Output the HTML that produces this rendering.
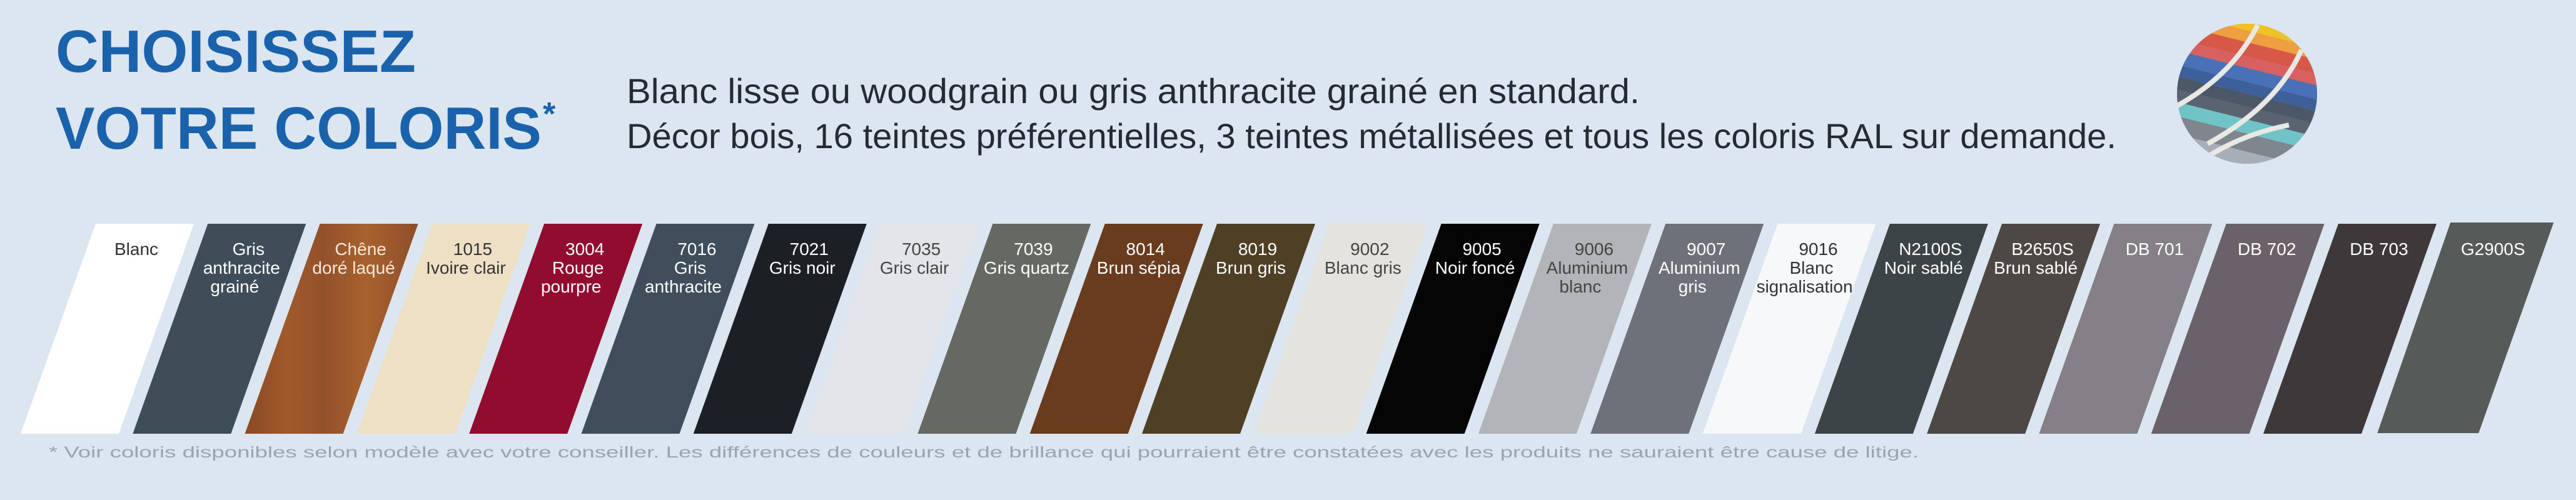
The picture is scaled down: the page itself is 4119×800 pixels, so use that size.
<!DOCTYPE html>
<html><head><meta charset="utf-8"><style>
html,body{margin:0;padding:0;background:#dce6f1;}
svg{display:block}
</style></head><body>
<svg width="4119" height="800" viewBox="0 0 4119 800" xmlns="http://www.w3.org/2000/svg" font-family="Liberation Sans, sans-serif">
<defs>
<linearGradient id="wood" x1="0" y1="0" x2="1" y2="0">
<stop offset="0" stop-color="#8a4a24"/><stop offset="0.25" stop-color="#a05a2a"/><stop offset="0.45" stop-color="#93512a"/><stop offset="0.7" stop-color="#a8622e"/><stop offset="1" stop-color="#8e4e2a"/>
</linearGradient>
<clipPath id="cc"><circle cx="3593" cy="150" r="112"/></clipPath>
<polygon id="sw" points="0,358 157,358 37,694 -120,694"/>
</defs>
<rect width="4119" height="800" fill="#dce6f1"/>

<g fill="#1b62ad" font-weight="bold">
<text x="89" y="115" font-size="96" textLength="576" lengthAdjust="spacingAndGlyphs">CHOISISSEZ</text>
<text x="89" y="238" font-size="96" textLength="777" lengthAdjust="spacingAndGlyphs">VOTRE COLORIS</text>
<text x="868" y="200" font-size="52">*</text>
</g>
<g fill="#232b35" font-size="56">
<text x="1002" y="165" textLength="1620" lengthAdjust="spacingAndGlyphs">Blanc lisse ou woodgrain ou gris anthracite grainé en standard.</text>
<text x="1002" y="237" textLength="2382" lengthAdjust="spacingAndGlyphs">Décor bois, 16 teintes préférentielles, 3 teintes métallisées et tous les coloris RAL sur demande.</text>
</g>

<g clip-path="url(#cc)">
<rect x="3470" y="30" width="250" height="250" fill="#8a8f99"/>
<g transform="rotate(14 3593 150)">
<rect x="3450" y="20" width="300" height="32" fill="#efc228"/>
<rect x="3450" y="52" width="300" height="18" fill="#eea040"/>
<rect x="3450" y="70" width="300" height="22" fill="#d85848"/>
<rect x="3450" y="92" width="300" height="18" fill="#d86060"/>
<rect x="3450" y="110" width="300" height="22" fill="#4a70b8"/>
<rect x="3450" y="132" width="300" height="18" fill="#3d5f9a"/>
<rect x="3450" y="150" width="300" height="20" fill="#4a5868"/>
<rect x="3450" y="170" width="300" height="20" fill="#5a6470"/>
<rect x="3450" y="190" width="300" height="22" fill="#70c4c8"/>
<rect x="3450" y="212" width="300" height="28" fill="#80868e"/>
<rect x="3450" y="240" width="300" height="40" fill="#a8aeb8"/>
</g>
<g fill="none" stroke="#e8e8e4" stroke-width="8">
<path d="M3610 40 Q3570 120 3480 170"/>
<path d="M3680 80 Q3640 170 3530 230"/>
<path d="M3490 280 Q3560 220 3660 200"/>
</g>
</g>

<g font-size="28" text-anchor="middle">
<g transform="translate(153,0)"><use href="#sw" fill="#ffffff"/><g fill="#333"><text x="65" y="408">Blanc</text></g></g>
<g transform="translate(332.3,0)"><use href="#sw" fill="#3f4d58"/><g fill="#fff"><text x="65" y="408">Gris</text><text x="54" y="438">anthracite</text><text x="43" y="468">grainé</text></g></g>
<g transform="translate(511.6,0)"><use href="#sw" fill="url(#wood)"/><g fill="#fbe8d8"><text x="65" y="408">Chêne</text><text x="54" y="438">doré laqué</text></g></g>
<g transform="translate(690.9,0)"><use href="#sw" fill="#ede0c4"/><g fill="#333"><text x="65" y="408">1015</text><text x="54" y="438">Ivoire clair</text></g></g>
<g transform="translate(870.2,0)"><use href="#sw" fill="#920c30"/><g fill="#fff"><text x="65" y="408">3004</text><text x="54" y="438">Rouge</text><text x="43" y="468">pourpre</text></g></g>
<g transform="translate(1049.5,0)"><use href="#sw" fill="#3f4e5a"/><g fill="#fff"><text x="65" y="408">7016</text><text x="54" y="438">Gris</text><text x="43" y="468">anthracite</text></g></g>
<g transform="translate(1228.8,0)"><use href="#sw" fill="#1c1f24"/><g fill="#fff"><text x="65" y="408">7021</text><text x="54" y="438">Gris noir</text></g></g>
<g transform="translate(1408.1,0)"><use href="#sw" fill="#e3e5e8"/><g fill="#444"><text x="65" y="408">7035</text><text x="54" y="438">Gris clair</text></g></g>
<g transform="translate(1587.4,0)"><use href="#sw" fill="#666961"/><g fill="#fff"><text x="65" y="408">7039</text><text x="54" y="438">Gris quartz</text></g></g>
<g transform="translate(1766.7,0)"><use href="#sw" fill="#6a3c1e"/><g fill="#fff"><text x="65" y="408">8014</text><text x="54" y="438">Brun sépia</text></g></g>
<g transform="translate(1946,0)"><use href="#sw" fill="#4f3f24"/><g fill="#fff"><text x="65" y="408">8019</text><text x="54" y="438">Brun gris</text></g></g>
<g transform="translate(2125.3,0)"><use href="#sw" fill="#e4e3de"/><g fill="#444"><text x="65" y="408">9002</text><text x="54" y="438">Blanc gris</text></g></g>
<g transform="translate(2304.6,0)"><use href="#sw" fill="#050505"/><g fill="#fff"><text x="65" y="408">9005</text><text x="54" y="438">Noir foncé</text></g></g>
<g transform="translate(2483.9,0)"><use href="#sw" fill="#b2b4b7"/><g fill="#444"><text x="65" y="408">9006</text><text x="54" y="438">Aluminium</text><text x="43" y="468">blanc</text></g></g>
<g transform="translate(2663.2,0)"><use href="#sw" fill="#6f717a"/><g fill="#fff"><text x="65" y="408">9007</text><text x="54" y="438">Aluminium</text><text x="43" y="468">gris</text></g></g>
<g transform="translate(2842.5,0)"><use href="#sw" fill="#f7f8f9"/><g fill="#333"><text x="65" y="408">9016</text><text x="54" y="438">Blanc</text><text x="43" y="468">signalisation</text></g></g>
<g transform="translate(3021.8,0)"><use href="#sw" fill="#3d4446"/><g fill="#fff"><text x="65" y="408">N2100S</text><text x="54" y="438">Noir sablé</text></g></g>
<g transform="translate(3201.1,0)"><use href="#sw" fill="#4e4845"/><g fill="#fff"><text x="65" y="408">B2650S</text><text x="54" y="438">Brun sablé</text></g></g>
<g transform="translate(3380.4,0)"><use href="#sw" fill="#857f86"/><g fill="#fff"><text x="65" y="408">DB 701</text></g></g>
<g transform="translate(3559.7,0)"><use href="#sw" fill="#6a6268"/><g fill="#fff"><text x="65" y="408">DB 702</text></g></g>
<g transform="translate(3739,0)"><use href="#sw" fill="#3f383b"/><g fill="#fff"><text x="65" y="408">DB 703</text></g></g>
<g transform="translate(3918.3,0)"><polygon points="0,356 165,356 45,693 -117,693" fill="#565a58"/><g fill="#fff"><text x="68" y="408">G2900S</text></g></g>
</g>

<text x="78" y="732" font-size="25" fill="#9aa4b0" textLength="2990" lengthAdjust="spacingAndGlyphs">* Voir coloris disponibles selon modèle avec votre conseiller. Les différences de couleurs et de brillance qui pourraient être constatées avec les produits ne sauraient être cause de litige.</text>
</svg>
</body></html>
